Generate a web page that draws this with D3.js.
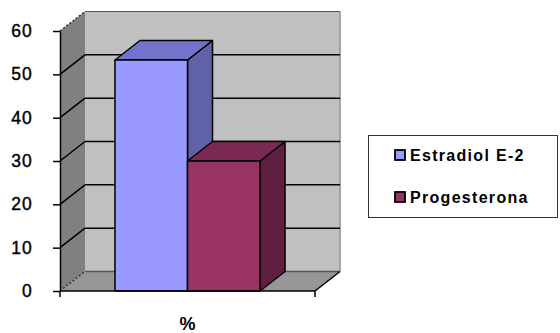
<!DOCTYPE html>
<html>
<head>
<meta charset="utf-8">
<script src="https://cdn.jsdelivr.net/npm/d3@7"></script>
<style>
  html, body { margin: 0; padding: 0; background: #fff; }
  svg { display: block; }
</style>
</head>
<body>
<svg id="chart" width="560" height="333"></svg>
<script>
// Hormone levels shown as 3D columns
const categories = ["%"];
const seriesNames = ["Estradiol E-2", "Progesterona"];
const seriesValues = [53.3, 30];
const yTicks = [0, 10, 20, 30, 40, 50, 60];

const frontColors = ["#9999ff", "#993366"];
const topColors = ["#7373cc", "#7a2952"];
const sideColors = ["#6161a8", "#5f1f40"];

const svg = d3.select("#chart");

// Front plane geometry and depth offset of the 3D box
const plotLeft = 60, plotRight = 315, plotBottom = 291, plotTop = 31;
const dx = 25, dy = -19.5;

const y = d3.scaleLinear().domain([0, 60]).range([plotBottom, plotTop]);
const x0 = d3.scaleBand().domain(categories).range([plotLeft, plotRight])
  .paddingInner(0).paddingOuter(0.379);
const x1 = d3.scaleBand().domain(seriesNames).range([0, x0.bandwidth()]).padding(0);

const pts = a => a.map(p => p.join(",")).join(" ");

// Left side wall
svg.append("polygon")
  .attr("points", pts([[plotLeft, y(0)], [plotLeft, y(60)], [plotLeft + dx, y(60) + dy], [plotLeft + dx, y(0) + dy]]))
  .attr("fill", "#808080");

// Back wall
svg.append("rect")
  .attr("x", plotLeft + dx).attr("y", y(60) + dy)
  .attr("width", plotRight - plotLeft).attr("height", y(0) - y(60))
  .attr("fill", "#c0c0c0");
svg.append("line")
  .attr("x1", plotRight + dx).attr("x2", plotRight + dx)
  .attr("y1", y(60) + dy).attr("y2", y(0) + dy)
  .attr("stroke", "#a4a4a4").attr("stroke-width", 2);
svg.append("line")
  .attr("x1", plotLeft + dx).attr("x2", plotRight + dx)
  .attr("y1", y(60) + dy).attr("y2", y(60) + dy)
  .attr("stroke", "#555").attr("stroke-width", 1);

// Floor
svg.append("polygon")
  .attr("points", pts([[plotLeft, y(0)], [plotRight, y(0)], [plotRight + dx, y(0) + dy], [plotLeft + dx, y(0) + dy]]))
  .attr("fill", "#969696");
svg.append("line")
  .attr("x1", plotLeft + dx).attr("x2", plotRight + dx)
  .attr("y1", y(0) + dy).attr("y2", y(0) + dy)
  .attr("stroke", "#555").attr("stroke-width", 1.5);

// Gridlines on the back and side walls
const inner = yTicks.filter(v => v > 0 && v < 60);
svg.append("g").selectAll("line").data(inner).join("line")
  .attr("x1", plotLeft + dx).attr("x2", plotRight + dx)
  .attr("y1", d => y(d) + dy).attr("y2", d => y(d) + dy)
  .attr("stroke", "#000").attr("stroke-width", 1.5);
svg.append("g").selectAll("line").data(inner).join("line")
  .attr("x1", plotLeft).attr("x2", plotLeft + dx)
  .attr("y1", d => y(d)).attr("y2", d => y(d) + dy)
  .attr("stroke", "#000").attr("stroke-width", 1.5);

// Hidden edges drawn dashed
[0, 60].forEach(v => {
  svg.append("line")
    .attr("x1", plotLeft).attr("x2", plotLeft + dx)
    .attr("y1", y(v)).attr("y2", y(v) + dy)
    .attr("stroke", "#222").attr("stroke-width", 1.3)
    .attr("stroke-dasharray", "2,2");
});

// Floor right edge
svg.append("line")
  .attr("x1", plotRight).attr("x2", plotRight + dx)
  .attr("y1", y(0)).attr("y2", y(0) + dy)
  .attr("stroke", "#000").attr("stroke-width", 1.5);

// Columns
seriesNames.forEach((name, i) => {
  const v = seriesValues[i];
  const xa = x0(categories[0]) + x1(name);
  const xb = xa + x1.bandwidth();
  const yt = y(v), yb = y(0);
  const g = svg.append("g")
    .attr("stroke", "#000").attr("stroke-width", 1.5).attr("stroke-linejoin", "round");
  g.append("polygon")
    .attr("points", pts([[xb, yb], [xb, yt], [xb + dx, yt + dy], [xb + dx, yb + dy]]))
    .attr("fill", sideColors[i]);
  g.append("polygon")
    .attr("points", pts([[xa, yt], [xb, yt], [xb + dx, yt + dy], [xa + dx, yt + dy]]))
    .attr("fill", topColors[i]);
  g.append("rect")
    .attr("x", xa).attr("y", yt)
    .attr("width", xb - xa).attr("height", yb - yt)
    .attr("fill", frontColors[i]);
});

// Y axis
const yAxis = svg.append("g")
  .attr("transform", `translate(${plotLeft},0)`)
  .call(d3.axisLeft(y).tickValues(yTicks).tickSize(7).tickSizeOuter(0).tickPadding(20));
yAxis.select(".domain").attr("stroke", "#000").attr("stroke-width", 1.5);
yAxis.selectAll(".tick line").attr("stroke", "#000").attr("stroke-width", 1.5);
yAxis.selectAll(".tick text")
  .attr("font-family", "'Liberation Sans', Arial, sans-serif")
  .attr("font-size", 17.5)
  .attr("letter-spacing", "1.2px")
  .attr("fill", "#000")
  .attr("stroke", "#000")
  .attr("stroke-width", 0.4);

// X axis baseline, edge ticks and category label
svg.append("line")
  .attr("x1", plotLeft).attr("x2", plotRight)
  .attr("y1", y(0)).attr("y2", y(0))
  .attr("stroke", "#000").attr("stroke-width", 1.5);
svg.append("g").selectAll("line").data([plotLeft, plotRight]).join("line")
  .attr("x1", d => d).attr("x2", d => d)
  .attr("y1", y(0)).attr("y2", y(0) + 6)
  .attr("stroke", "#000").attr("stroke-width", 1.5);
svg.append("g").selectAll("text").data(categories).join("text")
  .attr("x", d => x0(d) + x0.bandwidth() / 2)
  .attr("y", 330)
  .attr("text-anchor", "middle")
  .attr("font-family", "'Liberation Sans', Arial, sans-serif")
  .attr("font-weight", "bold")
  .attr("font-size", 18)
  .text(d => d);

// Legend
const legend = svg.append("g");
legend.append("rect")
  .attr("x", 368.5).attr("y", 135.5).attr("width", 189).attr("height", 82)
  .attr("fill", "#fff").attr("stroke", "#333").attr("stroke-width", 1);
const legendY = [155, 197];
seriesNames.forEach((name, i) => {
  legend.append("rect")
    .attr("x", 395).attr("y", legendY[i] - 5).attr("width", 10).attr("height", 10)
    .attr("fill", frontColors[i]).attr("stroke", "#000").attr("stroke-width", 1.8);
  legend.append("text")
    .attr("x", 410).attr("y", legendY[i] + 6)
    .attr("font-family", "'Liberation Sans', Arial, sans-serif")
    .attr("font-weight", "bold")
    .attr("font-size", 16)
    .attr("letter-spacing", "1.3px")
    .text(name);
});
</script>
</body>
</html>
